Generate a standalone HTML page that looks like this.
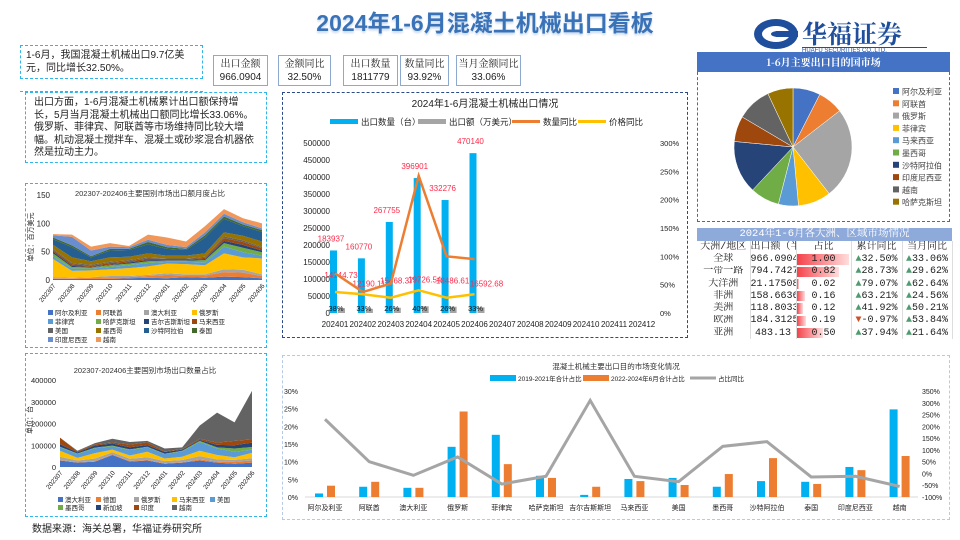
<!DOCTYPE html>
<html><head><meta charset="utf-8">
<style>
*{margin:0;padding:0;box-sizing:border-box}
body{width:960px;height:540px;background:#fff;position:relative;overflow:hidden;font-family:"Liberation Sans","Noto Sans CJK SC",sans-serif;color:#222}
.abs{position:absolute}
.dash{border:1.5px dashed #2fb5e8}
.kpi{position:absolute;top:55px;height:31px;border:1.5px solid #8ea9cf;background:#fff;font-size:10px;text-align:center;line-height:13px;padding-top:2px;font-family:"Liberation Sans","Noto Serif CJK SC",serif}
table{border-collapse:collapse;font-family:"Liberation Mono","Noto Serif CJK SC",monospace;font-size:10px;table-layout:fixed}
td{height:12.3px;line-height:11px;padding:0;text-align:center;border-right:1px solid #ddd;white-space:nowrap;overflow:hidden}
.up{color:#4f9a6e}.dn{color:#d0502a}
svg text{font-family:"Liberation Sans","Noto Sans CJK SC",sans-serif}
</style></head><body>
<div class="abs" style="left:290px;top:4px;width:390px;text-align:center;font-size:23px;font-weight:bold;color:#3a72b8;letter-spacing:0px;text-shadow:0 2px 2px #c9d9ee">2024年1-6月混凝土机械出口看板</div>

<div class="abs" style="left:752px;top:15px;width:190px;height:36px">
<svg width="48" height="34" style="position:absolute;left:0;top:2px"><ellipse cx="24" cy="17" rx="22" ry="15" fill="#1f4e9c"/><ellipse cx="24" cy="17" rx="14" ry="8" fill="#fff"/><rect x="24" y="14" width="22" height="6" fill="#1f4e9c"/><ellipse cx="26" cy="17" rx="7" ry="3" fill="#1f4e9c"/></svg>
<div style="position:absolute;left:50px;top:0;font-size:25px;font-weight:bold;color:#1f4e9c;font-family:'Noto Serif CJK SC',serif;letter-spacing:0px">华福证券</div>
<div style="position:absolute;left:50px;top:32px;width:125px;border-top:1px solid #1f4e9c;font-size:6px;color:#1f4e9c">HUAFU SECURITIES CO.,LTD.</div>
</div>

<div class="abs dash" style="left:20px;top:45px;width:183px;height:34px;font-size:10px;line-height:13px;padding:3px 5px">1-6月，我国混凝土机械出口9.7亿美元，同比增长32.50%。</div>
<div class="abs" style="left:20px;top:91px;width:183px;border-top:1.5px dashed #2fb5e8"></div>
<div class="abs dash" style="left:25px;top:92px;width:242px;height:71px;font-size:10px;line-height:12.5px;padding:4px 8px">出口方面，1-6月混凝土机械累计出口额保持增长，5月当月混凝土机械出口额同比增长33.06%。俄罗斯、菲律宾、阿联酋等市场维持同比较大增幅。机动混凝土搅拌车、混凝土或砂浆混合机器依然是拉动主力。</div>

<div class="kpi" style="left:213px;width:55px">出口金额<br>966.0904</div>
<div class="kpi" style="left:278px;width:53px">金额同比<br>32.50%</div>
<div class="kpi" style="left:343px;width:55px">出口数量<br>1811779</div>
<div class="kpi" style="left:400px;width:49px">数量同比<br>93.92%</div>
<div class="kpi" style="left:456px;width:65px">当月金额同比<br>33.06%</div>

<div class="abs" style="left:282px;top:92px;width:406px;height:246px;border:1.5px dashed #2b4a8c"></div>
<div class="abs dash" style="left:25px;top:183px;width:242px;height:165px"></div>
<div class="abs dash" style="left:25px;top:353px;width:242px;height:164px"></div>
<div class="abs" style="left:282px;top:355px;width:668px;height:165px;border:1.5px dashed #b5c9e8"></div>
<div class="abs" style="left:32px;top:520px;font-size:10px">数据来源：海关总署，华福证券研究所</div>

<div class="abs" style="left:697px;top:52px;width:253px;height:20px;background:#4472c4;color:#fff;font-weight:bold;font-size:10px;text-align:center;line-height:20px;font-family:'Noto Serif CJK SC',serif">1-6月主要出口目的国市场</div>
<div class="abs" style="left:697px;top:72px;width:253px;height:150px;border:1.5px dashed #2e75b6;border-top:none"></div>

<div class="abs" style="left:697px;top:228px;width:255px">
<div style="height:13px;background:#8eaadb;color:#fff;font-size:10.5px;text-align:center;line-height:13px;font-family:'Liberation Mono','Noto Serif CJK SC',monospace">2024年1-6月各大洲、区域市场情况</div>
<table style="width:255px"><colgroup><col style="width:53px"><col style="width:46px"><col style="width:55px"><col style="width:51px"><col style="width:50px"></colgroup>
<tr><td>大洲/地区</td><td>出口额（半</td><td>占比</td><td>累计同比</td><td>当月同比</td></tr>
<tbody id="tb"></tbody></table></div>

<svg id="svg" class="abs" style="left:0;top:0" width="960" height="540"></svg>

<script>
// ===== main chart data =====
const months=['202401','202402','202403','202404','202405','202406','202407','202408','202409','202410','202411','202412'];
const qty=[183937,160770,267755,396901,332276,470140];
const amount=[14144.73,12190.11,15468.37,19726.54,18486.61,16592.68];
const qtyYoY=[70,37,52,242,100,95];
const priceYoY=[37,33,27,40,27,33];
const pctLabels=['38%','33%','26%','40%','26%','33%'];
const leftTicks=[0,50000,100000,150000,200000,250000,300000,350000,400000,450000,500000];
const rightTicks=[0,50,100,150,200,250,300];
// ===== area chart 1 =====
const a1Months=['202307','202308','202309','202310','202311','202312','202401','202402','202403','202404','202405','202406'];
const a1Names=['阿尔及利亚','阿联酋','澳大利亚','俄罗斯','菲律宾','哈萨克斯坦','吉尔吉斯斯坦','马来西亚','美国','墨西哥','沙特阿拉伯','泰国','印度尼西亚','越南'];
const a1Colors=['#4472c4','#ed7d31','#a5a5a5','#ffc000','#5b9bd5','#70ad47','#264478','#9e480e','#636363','#997300','#255e91','#43682b','#698ed0','#f1975a'];
const a1Vals=[
[2,2,2,2,3,4,3,5,4,6,5,3],[1,1,2,3,2,3,6,3,4,8,8,4],[2,1,1,2,2,2,3,2,2,5,5,3],[32,12,12,12,14,15,17,18,16,28,22,28],
[5,4,3,4,5,6,3,4,5,12,9,5],[5,3,2,3,3,3,2,2,4,6,8,6],[3,2,1,1,2,2,1,1,2,4,5,3],[3,3,2,3,2,3,2,2,2,5,5,4],
[2,2,2,2,2,2,1,1,2,3,3,2],[7,10,6,8,6,7,5,5,6,7,8,10],[10,18,7,12,12,16,12,10,28,24,17,17],[3,3,2,3,2,4,3,2,4,4,3,3],
[4,15,10,4,3,4,4,3,5,5,4,3],[2,4,7,6,2,9,13,10,11,8,7,9]];
const a1Ticks=[0,50,100,150];
// ===== area chart 2 =====
const a2Names=['澳大利亚','德国','俄罗斯','马来西亚','美国','墨西哥','新加坡','印度','越南'];
const a2Colors=['#4472c4','#ed7d31','#a5a5a5','#ffc000','#5b9bd5','#70ad47','#264478','#9e480e','#636363'];
const a2Vals=[
[30000,20000,25000,55000,25000,30000,15000,20000,30000,20000,15000,20000],[2000,2000,2000,3000,3000,3000,2000,2000,5000,5000,10000,10000],
[15000,8000,12000,10000,10000,12000,10000,10000,15000,10000,8000,10000],[28000,12000,25000,12000,15000,25000,12000,15000,25000,20000,12000,25000],
[15000,18000,22000,15000,25000,20000,20000,25000,40000,30000,25000,15000],[3000,2000,3000,3000,3000,3000,2000,3000,5000,5000,15000,12000],
[12000,5000,10000,10000,10000,8000,8000,5000,5000,12000,15000,20000],[30000,5000,5000,5000,12000,12000,3000,3000,5000,10000,20000,15000],
[0,3000,6000,17000,12000,7000,13000,7000,60000,138000,85000,223000]];
const a2Ticks=[0,100000,200000,300000,400000];
// ===== pie =====
const pieNames=['阿尔及利亚','阿联酋','俄罗斯','菲律宾','马来西亚','墨西哥','沙特阿拉伯','印度尼西亚','越南','哈萨克斯坦'];
const pieVals=[7.5,7,25,9,5.5,8,14.5,7,9.5,7];
const pieColors=['#4472c4','#ed7d31','#a5a5a5','#ffc000','#5b9bd5','#70ad47','#264478','#9e480e','#636363','#997300'];
// ===== bottom chart =====
const bCats=['阿尔及利亚','阿联酋','澳大利亚','俄罗斯','菲律宾','哈萨克斯坦','吉尔吉斯斯坦','马来西亚','美国','墨西哥','沙特阿拉伯','泰国','印度尼西亚','越南'];
const share1921=[1,2.9,2.6,14.2,17.6,6,0.6,5.1,5.4,2.9,4.5,4.3,8.5,24.8];
const share2224=[3.2,4.3,2.6,24.2,9.3,5.4,2.9,4.5,3.4,6.5,11,3.7,7.6,11.6];
const shareYoY=[230,50,-8,70,-45,-12,310,-12,-35,115,135,-15,-12,-55];
const bLeftTicks=[0,5,10,15,20,25,30];
const bRightTicks=[-100,-50,0,50,100,150,200,250,300,350];
// ===== table =====
const tRegions=['全球','一带一路','大洋洲','非洲','美洲','欧洲','亚洲'];
const tAmount=['966.0904','794.7427','21.17508','158.6636','118.8033','184.3125','483.13'];
const tShare=[1.00,0.82,0.02,0.16,0.12,0.19,0.50];
const tCum=[32.50,28.73,79.07,63.21,41.92,-0.97,37.94];
const tMonth=[33.06,29.62,62.64,24.56,50.21,53.84,21.64];

const NS='http://www.w3.org/2000/svg';
const svg=document.getElementById('svg');
function mk(tag,attrs,parent){const e=document.createElementNS(NS,tag);for(const k in attrs)e.setAttribute(k,attrs[k]);(parent||svg).appendChild(e);return e;}
function txt(x,y,s,size,fill,anchor,extra){const e=mk('text',Object.assign({x:x,y:y,'font-size':size,fill:fill||'#222','text-anchor':anchor||'start'},extra||{}));e.textContent=s;return e;}

// ---- main chart ----
(function(){
 const x0=335,dx=27.9,yb=313,yt=143;
 const yL=v=>yb-(v/500000)*(yb-yt);
 const yR=v=>yb-(v/300)*(yb-yt);
 const cx=i=>x0+i*dx;
 let t=txt(485,107,'2024年1-6月混凝土机械出口情况',10,'#222','middle');
 
 
 const leg=[['rect','#00b0f0','出口数量（台）',330],['rect','#a5a5a5','出口额（万美元）',418],['line','#ed7d31','数量同比',512],['line','#ffc000','价格同比',578]];
 leg.forEach(l=>{
  let m=l[0]==='rect'?mk('rect',{x:l[3],y:119,width:28,height:5,fill:l[1]}):mk('line',{x1:l[3],y1:121.5,x2:l[3]+28,y2:121.5,stroke:l[1],'stroke-width':3});
  
  
  let lt=txt(l[3]+31,125,l[2],8.5);
  
  
 });
 leftTicks.forEach(v=>{let e=txt(330,yL(v)+3,String(v),8,'#222','end');
  
  });
 rightTicks.forEach(v=>{let e=txt(660,yR(v)+3,v+'%',7.5,'#222','start');
  
  });
 months.forEach((m,i)=>{let e=txt(cx(i),327,m,8,'#222','middle');
  
  });
 qty.forEach((v,i)=>{
  let b=mk('rect',{x:cx(i)-5,y:yL(v),width:7,height:yb-yL(v),fill:'#00b0f0'});
  
  
  let l=txt(cx(i)-4,yL(v)-9,String(v),8,'#ff2a4a','middle');
  
  
 });
 amount.forEach((v,i)=>{
  let b=mk('rect',{x:cx(i)+3,y:yL(v),width:7,height:yb-yL(v),fill:'#a5a5a5'});
  
  
  let p=txt(cx(i)+1,yb-2,pctLabels[i],7.5,'#111','middle');
  
  
  let l=txt(cx(i)+(i==5?12:6),yR(priceYoY[i])-(i%2?8:14),v.toFixed(2),8,'#ff2a4a','middle');
  
  
 });
 let p1=mk('polyline',{points:qtyYoY.map((v,i)=>cx(i)+','+yR(v)).join(' '),fill:'none',stroke:'#ed7d31','stroke-width':2.5});
 
 
 let p2=mk('polyline',{points:priceYoY.map((v,i)=>cx(i)+','+yR(v)).join(' '),fill:'none',stroke:'#ffc000','stroke-width':2.5});
 
 
})();

// ---- stacked area helper ----
function area(cfg){
 const {vals,colors,x0,x1,yb,yt,max,name}=cfg;
 const n=vals[0].length,dx=(x1-x0)/(n-1);
 const X=i=>x0+i*dx,Y=v=>yb-(v/max)*(yb-yt);
 let base=new Array(n).fill(0);
 vals.forEach((s,k)=>{
  const top=base.map((b,i)=>b+s[i]);
  const pts=top.map((v,i)=>X(i)+','+Y(v)).concat(base.map((v,i)=>X(i)+','+Y(v)).reverse());
  let p=mk('polygon',{points:pts.join(' '),fill:colors[k]});
  
  
  base=top;
 });
 return {X,Y};
}
// chart 1
(function(){
 let t=txt(150,196,'202307-202406主要国别市场出口额月度占比',7.5,'#333','middle');
 
 
 const r=area({vals:a1Vals,colors:a1Colors,x0:53,x1:262,yb:280,yt:195,max:150,name:'export-amount'});
 a1Ticks.forEach(v=>{let e=txt(50,r.Y(v)+3,String(v),8,'#222','end');
  
  });
 let u=txt(0,0,'单位：百万美元',7,'#222','middle',{transform:'translate(33,237) rotate(-90)'});
 
 
 a1Months.forEach((m,i)=>{let e=txt(0,0,m,6.5,'#222','end',{transform:'translate('+(r.X(i)+3)+',286) rotate(-50)'});
  
  });
 a1Names.forEach((nm,k)=>{const col=k%4,row=Math.floor(k/4);const x=48+col*48,y=315+row*9;
  let s=mk('rect',{x:x,y:y-5,width:5,height:5,fill:a1Colors[k]});
  
  
  let e=txt(x+7,y,nm,6.5);
  
  });
})();
// chart 2
(function(){
 let t=txt(145,373,'202307-202406主要国别市场出口数量占比',7.5,'#333','middle');
 
 
 const r=area({vals:a2Vals,colors:a2Colors,x0:60,x1:252,yb:467,yt:380,max:400000,name:'export-qty'});
 a2Ticks.forEach(v=>{let e=txt(56,r.Y(v)+3,String(v),7.5,'#222','end');
  
  });
 let u=txt(0,0,'单位：台',7,'#222','middle',{transform:'translate(32,420) rotate(-90)'});
 
 
 a1Months.forEach((m,i)=>{let e=txt(0,0,m,6.5,'#222','end',{transform:'translate('+(r.X(i)+3)+',473) rotate(-50)'});
  
  });
 a2Names.forEach((nm,k)=>{const col=k%5,row=Math.floor(k/5);const x=58+col*38,y=502+row*8;
  let s=mk('rect',{x:x,y:y-5,width:5,height:5,fill:a2Colors[k]});
  
  
  let e=txt(x+7,y,nm,6.5);
  
  });
})();

// ---- pie ----
(function(){
 const cx=793,cy=147,r=59,tot=pieVals.reduce((a,b)=>a+b,0);
 let a=-Math.PI/2;
 pieVals.forEach((v,k)=>{
  const b=a+v/tot*2*Math.PI;
  const x1=cx+r*Math.cos(a),y1=cy+r*Math.sin(a),x2=cx+r*Math.cos(b),y2=cy+r*Math.sin(b);
  let p=mk('path',{d:`M${cx},${cy} L${x1},${y1} A${r},${r} 0 ${b-a>Math.PI?1:0} 1 ${x2},${y2} Z`,fill:pieColors[k],stroke:'#fff','stroke-width':0.5});
  
  
  a=b;
  const ly=92+k*12.3;
  let s=mk('rect',{x:893,y:ly-4,width:6,height:6,fill:pieColors[k]});
  
  
  let t=txt(902,ly+2.5,pieNames[k],8,'#444');
  
  
 });
})();

// ---- bottom chart ----
(function(){
 const x0=325,dx=44.2,yb=497,yt=391;
 const X=i=>x0+i*dx,YL=v=>yb-(v/30)*(yb-yt),YR=v=>yb-((v+100)/450)*(yb-yt);
 let t=txt(616,369,'混凝土机械主要出口目的市场变化情况',7.5,'#333','middle');
 
 
 [['rect','#00b0f0','2019-2021年合计占比',490],['rect','#ed7d31','2022-2024年6月合计占比',583],['line','#a5a5a5','占比同比',690]].forEach(l=>{
  let m=l[0]==='rect'?mk('rect',{x:l[3],y:375,width:26,height:6,fill:l[1]}):mk('line',{x1:l[3],y1:378,x2:l[3]+26,y2:378,stroke:l[1],'stroke-width':3});
  
  
  let e=txt(l[3]+28,381,l[2],6.5);
  
  
 });
 bLeftTicks.forEach(v=>{let e=txt(298,YL(v)+3,v+'%',7,'#222','end');
  
  });
 bRightTicks.forEach(v=>{let e=txt(922,YR(v)+3,v+'%',7,'#222','start');
  
  });
 let ax=mk('line',{x1:305,y1:yb,x2:918,y2:yb,stroke:'#ccc','stroke-width':0.8});
 
 
 bCats.forEach((c,i)=>{
  let e=txt(X(i),510,c,7,'#222','middle');
  
  
  let b1=mk('rect',{x:X(i)-10,y:YL(share1921[i]),width:8,height:yb-YL(share1921[i]),fill:'#00b0f0'});
  
  
  let b2=mk('rect',{x:X(i)+2,y:YL(share2224[i]),width:8,height:yb-YL(share2224[i]),fill:'#ed7d31'});
  
  
 });
 let pl=mk('polyline',{points:shareYoY.map((v,i)=>X(i)+','+YR(v)).join(' '),fill:'none',stroke:'#a5a5a5','stroke-width':3});
 
 
})();

// ---- table ----
(function(){
 const tb=document.getElementById('tb');
 tRegions.forEach((r,i)=>{
  const tr=document.createElement('tr');
  
  
  const w=Math.max(2,tShare[i]*52);
  const cum=tCum[i],mon=tMonth[i];
  tr.innerHTML=`<td>${r}</td><td>${tAmount[i]}</td><td style="position:relative"><div style="position:absolute;left:0;top:1px;bottom:1px;width:${w}px;background:linear-gradient(90deg,#f4424a,#fdd)"></div><span style="position:relative">${tShare[i].toFixed(2)}</span></td><td><span class="${cum<0?'dn':'up'}">${cum<0?'▼':'▲'}</span>${cum.toFixed(2)}%</td><td><span class="${mon<0?'dn':'up'}">${mon<0?'▼':'▲'}</span>${mon.toFixed(2)}%</td>`;
  tb.appendChild(tr);
 });
})();
</script>
</body></html>
